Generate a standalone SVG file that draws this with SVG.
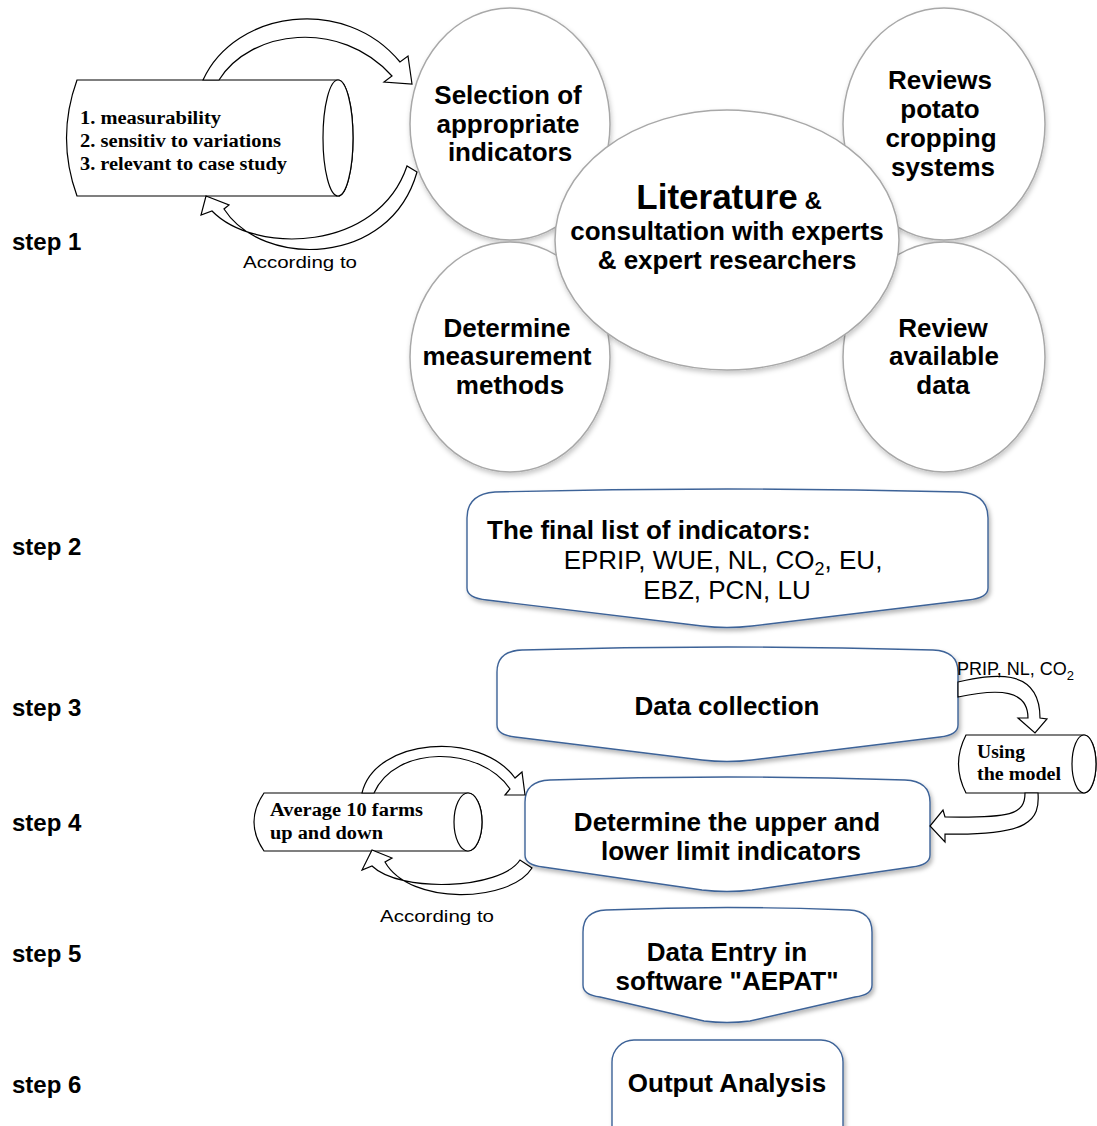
<svg xmlns="http://www.w3.org/2000/svg" width="1097" height="1126" viewBox="0 0 1097 1126">
<defs>
  <filter id="sh" x="-10%" y="-10%" width="125%" height="130%">
    <feDropShadow dx="2" dy="3" stdDeviation="2.2" flood-color="#000" flood-opacity="0.28"/>
  </filter>
  <filter id="shc" x="-10%" y="-10%" width="125%" height="125%">
    <feDropShadow dx="1" dy="3" stdDeviation="2.5" flood-color="#000" flood-opacity="0.22"/>
  </filter>
</defs>
<style>
  .step{font-family:"Liberation Sans",Arial,sans-serif;font-weight:bold;font-size:24px;fill:#000}
  .b{font-family:"Liberation Sans",Arial,sans-serif;font-weight:bold;font-size:26px;fill:#000;text-anchor:middle}
  .r{font-family:"Liberation Sans",Arial,sans-serif;font-size:26px;fill:#000;text-anchor:middle}
  .lbl{font-family:"Liberation Sans",Arial,sans-serif;font-size:17px;fill:#000}
  .ser{font-family:"Liberation Serif","Times New Roman",serif;font-weight:bold;font-size:18.5px;fill:#000}
  .circ{fill:#fff;stroke:#a8a8a8;stroke-width:1.5}
  .box{fill:#fff;stroke:#3e6398;stroke-width:1.4}
  .cyl{fill:#fff;stroke:#000;stroke-width:1.2}
  .arr{fill:#fff;stroke:#000;stroke-width:1.2;stroke-linejoin:miter}
</style>
<rect width="1097" height="1126" fill="#fff"/>

<g id="step-labels">
  <text class="step" x="12" y="250">step 1</text>
  <text class="step" x="12" y="555">step 2</text>
  <text class="step" x="12" y="716">step 3</text>
  <text class="step" x="12" y="831">step 4</text>
  <text class="step" x="12" y="962">step 5</text>
  <text class="step" x="12" y="1093">step 6</text>
</g>

<g id="node-selection">
  <ellipse class="circ" filter="url(#shc)" cx="510" cy="124" rx="100" ry="116"/>
  <text class="b" x="508" y="104">Selection of</text>
  <text class="b" x="508" y="133">appropriate</text>
  <text class="b" x="510" y="161">indicators</text>
</g>
<g id="node-reviews">
  <ellipse class="circ" filter="url(#shc)" cx="944" cy="124" rx="101" ry="116"/>
  <text class="b" x="940" y="89">Reviews</text>
  <text class="b" x="940" y="118">potato</text>
  <text class="b" x="941" y="147">cropping</text>
  <text class="b" x="943" y="176">systems</text>
</g>
<g id="node-determine">
  <ellipse class="circ" filter="url(#shc)" cx="510" cy="357" rx="100" ry="115"/>
  <text class="b" x="507" y="337">Determine</text>
  <text class="b" x="507" y="365">measurement</text>
  <text class="b" x="510" y="394">methods</text>
</g>
<g id="node-review-data">
  <ellipse class="circ" filter="url(#shc)" cx="944" cy="357" rx="101" ry="115"/>
  <text class="b" x="943" y="337">Review</text>
  <text class="b" x="944" y="365">available</text>
  <text class="b" x="943" y="394">data</text>
</g>
<g id="node-literature">
  <ellipse class="circ" filter="url(#shc)" cx="727" cy="240" rx="172" ry="130"/>
  <text class="b" x="729" y="209"><tspan style="font-size:35px">Literature</tspan><tspan style="font-size:24px"> &amp;</tspan></text>
  <text class="b" x="727" y="240">consultation with experts</text>
  <text class="b" x="727" y="269">&amp; expert researchers</text>
</g>

<g id="node-criteria">
  <path class="cyl" d="M 77,80 L 338,80 A 15,58 0 0 1 338,196 L 77,196 Q 56,138 77,80 Z"/>
  <ellipse class="cyl" cx="338" cy="138" rx="15" ry="58"/>
  <text class="ser" x="80" y="124" textLength="141" lengthAdjust="spacingAndGlyphs">1. measurability</text>
  <text class="ser" x="80" y="147" textLength="201" lengthAdjust="spacingAndGlyphs">2. sensitiv to variations</text>
  <text class="ser" x="80" y="170" textLength="207" lengthAdjust="spacingAndGlyphs">3. relevant to case study</text>
</g>

<g id="node-final-list">
  <path class="box" filter="url(#sh)" d="M 467,518 Q 467,494 495,492 Q 727,486 960,492 Q 988,494 988,518 L 988,588 Q 988,598 968,600 L 752,626 Q 727,629 702,626 L 487,600 Q 467,598 467,588 Z"/>
  <text class="b" x="487" y="539" style="text-anchor:start">The final list of indicators:</text>
  <text class="r" x="723" y="569">EPRIP, WUE, NL, CO<tspan dy="6" style="font-size:18px">2</tspan><tspan dy="-6">, EU,</tspan></text>
  <text class="r" x="727" y="599">EBZ, PCN, LU</text>
</g>

<g id="node-data-collection">
  <path class="box" filter="url(#sh)" d="M 497,672 Q 497,651 522,650 Q 727,644 933,650 Q 958,651 958,672 L 958,725 Q 958,735 940,737 L 752,760 Q 727,763 702,760 L 515,737 Q 497,735 497,725 Z"/>
  <text class="b" x="727" y="715">Data collection</text>
</g>

<g id="node-model">
  <path class="cyl" d="M 966,735 L 1084,735 A 12,29 0 0 1 1084,793 L 966,793 Q 951,764 966,735 Z"/>
  <ellipse class="cyl" cx="1084" cy="764" rx="12" ry="29"/>
  <text class="ser" x="977" y="758" textLength="48" lengthAdjust="spacingAndGlyphs">Using</text>
  <text class="ser" x="977" y="780" textLength="84" lengthAdjust="spacingAndGlyphs">the model</text>
</g>

<g id="node-limits">
  <path class="box" filter="url(#sh)" d="M 525,802 Q 525,781 550,780 Q 727,774 905,780 Q 930,781 930,802 L 930,855 Q 930,865 912,867 L 752,890 Q 727,893 702,890 L 543,867 Q 525,865 525,855 Z"/>
  <text class="b" x="727" y="831">Determine the upper and</text>
  <text class="b" x="731" y="860">lower limit indicators</text>
</g>

<g id="node-average">
  <path class="cyl" d="M 264,793 L 468,793 A 14,29 0 0 1 468,851 L 264,851 Q 244,822 264,793 Z"/>
  <ellipse class="cyl" cx="468" cy="822" rx="14" ry="29"/>
  <text class="ser" x="270" y="816" textLength="153" lengthAdjust="spacingAndGlyphs">Average 10 farms</text>
  <text class="ser" x="270" y="839" textLength="113" lengthAdjust="spacingAndGlyphs">up and down</text>
</g>

<g id="node-data-entry">
  <path class="box" filter="url(#sh)" d="M 583,932 Q 583,911 606,910 Q 727,905 849,910 Q 872,911 872,932 L 872,985 Q 872,995 855,997 L 750,1021 Q 727,1024 704,1021 L 600,997 Q 583,995 583,985 Z"/>
  <text class="b" x="727" y="961">Data Entry in</text>
  <text class="b" x="727" y="990">software "AEPAT"</text>
</g>

<g id="node-output">
  <rect class="box" filter="url(#sh)" x="612" y="1040" width="231" height="110" rx="22"/>
  <text class="b" x="727" y="1092">Output Analysis</text>
</g>

<g id="connectors">
  <path class="arr" d="M 203,80 C 235,10 345,-5 400,62 L 408,56 L 412,84 L 384,82 L 392,76 C 340,18 250,30 219,80 Z"/>
  <path class="arr" d="M 417,172 C 390,268 262,268 224,209 L 229,205 L 206,196 L 201,215 L 212,211 C 255,255 378,252 407,166 Z"/>
  <text class="lbl" x="243" y="268" textLength="114" lengthAdjust="spacingAndGlyphs">According to</text>

  <path class="arr" d="M 958,682 C 990,675 1040,665 1040,718 L 1047,719 L 1035,733 L 1018,718 L 1028,718 C 1028,690 1000,688 958,697 Z"/>
  <text class="lbl" x="957" y="675" style="font-size:18px">PRIP, NL, CO<tspan dy="5" style="font-size:13px">2</tspan></text>
  <path class="arr" d="M 1025,793 C 1025,815 1010,818 945,817 L 943,810 L 930,826 L 945,842 L 945,834 C 1030,836 1040,820 1038,793 Z"/>

  <path class="arr" d="M 362,793 C 375,738 480,730 515,778 L 522,772 L 525,795 L 505,795 L 510,789 C 480,745 395,745 374,793 Z"/>
  <path class="arr" d="M 532,868 C 510,903 410,906 385,862 L 392,858 L 372,850 L 362,870 L 372,866 C 400,893 500,890 520,860 Z"/>
  <text class="lbl" x="380" y="922" textLength="114" lengthAdjust="spacingAndGlyphs">According to</text>
</g>
</svg>
